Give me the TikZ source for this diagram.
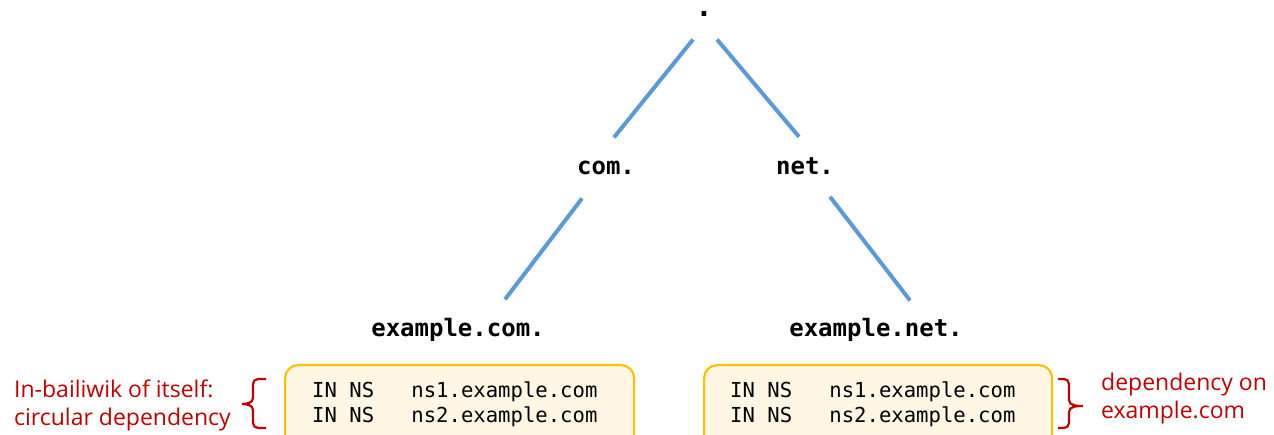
\documentclass[tikz,border=0pt]{standalone}
\usepackage{fontspec}
\setmainfont{Open Sans}
\setmonofont{DejaVu Sans Mono}
\usetikzlibrary{calc}
\definecolor{treeblue}{HTML}{5B9BD5}
\definecolor{noteRed}{HTML}{C00000}
\definecolor{boxgold}{HTML}{FFC000}
\definecolor{boxfill}{HTML}{FFF7E4}
\tikzset{
  zone/.style={font=\ttfamily\bfseries\fontsize{24}{28}\selectfont, inner sep=0pt, anchor=base},
  edge/.style={draw=treeblue, line width=4pt},
  rrbox/.style={draw=boxgold, fill=boxfill, line width=2.2pt, rounded corners=13pt},
  rrtext/.style={font=\ttfamily\fontsize{20.6}{25}\selectfont, inner sep=0pt, anchor=base west},
  note/.style={font=\fontsize{23}{27}\selectfont, text=noteRed, inner sep=0pt, anchor=base west},
  bracket/.style={draw=noteRed, line width=2.2pt}
}
\begin{document}
\begin{tikzpicture}[x=1pt,y=-1pt]
\useasboundingbox (0,0) rectangle (1274,435);
\clip (0,0) rectangle (1274,435);

% tree of zones
\node[zone, font=\ttfamily\bfseries\fontsize{28}{30}\selectfont] (root) at (704,17) {.};
\node[zone] (com) at (606,175) {com.};
\node[zone] (net) at (805,175) {net.};
\node[zone] (excom) at (458,337) {example.com.};
\node[zone] (exnet) at (876,337) {example.net.};

\draw[edge] ($(root)+(-11,25)$) -- ($(com)+(8,-31)$);
\draw[edge] ($(root)+(13,25)$) -- ($(net)+(-6,-30)$);
\draw[edge] ($(com)+(-24,30)$) -- ($(excom)+(47,-31)$);
\draw[edge] ($(net)+(25,30)$) -- ($(exnet)+(34,-30)$);

% NS records of each zone
\node[rrbox, minimum width=349pt, minimum height=90pt, anchor=north west] (boxcom) at (284,364) {};
\node[rrbox, minimum width=348pt, minimum height=90pt, anchor=north west] (boxnet) at (703,364) {};

\node[rrtext] (c1) at (312,397) {IN NS\ \ \ ns1.example.com};
\node[rrtext] (c2) at (312,422) {IN NS\ \ \ ns2.example.com};
\node[rrtext] (n1) at (730,397) {IN NS\ \ \ ns1.example.com};
\node[rrtext] (n2) at (730,422) {IN NS\ \ \ ns2.example.com};

% left bracket and note
\draw[bracket] (266,379) -- (258,379) to[out=180,in=90] (253,384) -- (253,398)
  to[out=-90,in=0] (242,404) to[out=0,in=90] (253,410) -- (253,423)
  to[out=-90,in=180] (258,428) -- (266,428);
\node[note] (incirc) at (14,397) {In-bailiwik of itself:};
\node[note] (circ) at (14,425) {circular dependency};

% right bracket and note
\draw[bracket] (1058,379) -- (1064,379) to[out=0,in=90] (1069,384) -- (1069,400)
  to[out=-90,in=180] (1083,406) to[out=180,in=90] (1069,412) -- (1069,423)
  to[out=-90,in=0] (1064,428) -- (1058,428);
\node[note] (dep) at (1101,390) {dependency on};
\node[note] (depcom) at (1101,418) {example.com};
\end{tikzpicture}
\end{document}
